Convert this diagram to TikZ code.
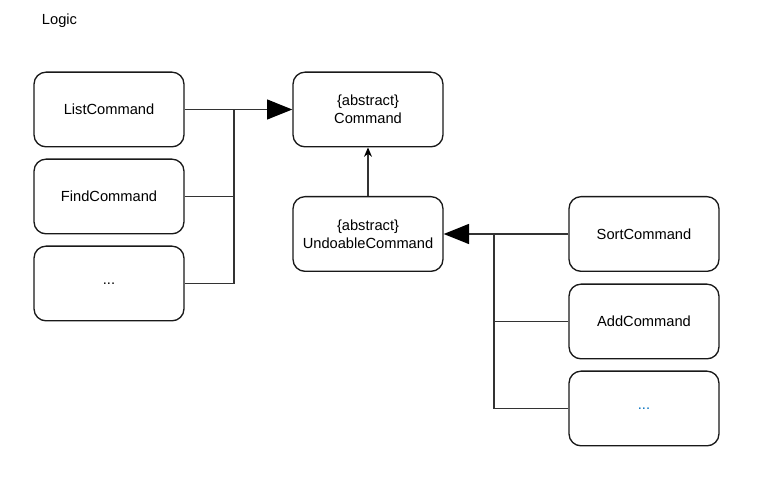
\documentclass[tikz,border=0pt]{standalone}
\usepackage{fontspec}
\setmainfont{Liberation Sans}
\usetikzlibrary{arrows.meta}
\begin{document}
\begin{tikzpicture}[x=0.75pt,y=-0.75pt,
  txt/.style={font=\fontsize{11}{13.5}\selectfont},
  cls/.style={txt,draw=black!90,line width=1pt,rounded corners=9pt,minimum width=112.5pt,minimum height=56pt,align=center,fill=white},
  link/.style={draw=black!80,line width=0.9pt},
  inherit/.style={link,-{Triangle[length=19pt,width=15pt,color=black,fill=black]}},
  assoc/.style={link,-{Stealth[length=7pt,width=6pt,color=black,fill=black]}}]
\useasboundingbox (0,0) rectangle (758,477);
\node[txt] (title) at (59.5,21) {Logic};
% left-hand subclasses
\node[cls] (list) at (109,109.5) {ListCommand};
\node[cls] (find) at (109,196.5) {FindCommand};
\node[cls] (lmore) at (109,283.5) {...};
% abstract commands
\node[cls] (cmd) at (368,109.5) {\{abstract\}\\Command};
\node[cls] (undo) at (368,234) {\{abstract\}\\UndoableCommand};
% right-hand subclasses
\node[cls] (sort) at (644,234) {SortCommand};
\node[cls] (add) at (644,321.5) {AddCommand};
\node[cls] (rmore) at (644,408.5) {\textcolor[rgb]{0,0.44,0.75}{...}};
% junction points of the inheritance buses
\coordinate (lj) at (234,109.5);
\coordinate (rj) at (494,234);
\draw[inherit] (list.east) -- (cmd.west);
\draw[link] (find.east) -| (lj);
\draw[link] (lmore.east) -| (lj);
\draw[assoc] (undo.north) -- (cmd.south);
\draw[inherit] (sort.west) -- (undo.east);
\draw[link] (add.west) -| (rj);
\draw[link] (rmore.west) -| (rj);
\end{tikzpicture}
\end{document}
